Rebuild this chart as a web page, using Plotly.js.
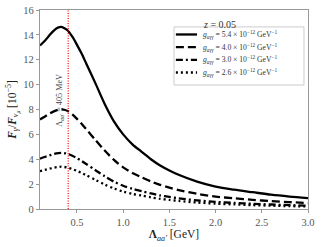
<!DOCTYPE html>
<html><head><meta charset="utf-8">
<script src="https://cdn.plot.ly/plotly-3.0.1.min.js"></script>
<style>body{margin:0;padding:0;background:#fff}#plot{width:321px;height:247px}</style>
</head><body><div id="plot"></div>
<script>
const lambdaGeV = [0.1,0.15,0.2,0.25,0.3,0.33,0.36,0.4,0.45,0.5,0.55,0.6,0.7,0.8,0.9,1.0,1.1,1.2,1.3,1.4,1.5,1.6,1.8,2.0,2.2,2.4,2.6,2.8,3.0];
const g54 = [13.15,13.5,13.95,14.35,14.6,14.65,14.55,14.35,13.85,13.2,12.5,11.7,10.1,8.45,7.05,6.0,5.2,4.6,4.0,3.5,3.1,2.75,2.2,1.8,1.55,1.35,1.15,1.0,0.88];
const g40 = [7.2,7.42,7.65,7.85,7.98,8.02,7.98,7.88,7.6,7.25,6.85,6.42,5.55,4.7,3.95,3.35,2.9,2.55,2.22,1.94,1.72,1.52,1.22,1.0,0.86,0.74,0.63,0.55,0.48];
const g30 = [4.05,4.18,4.3,4.42,4.5,4.52,4.5,4.43,4.28,4.08,3.86,3.62,3.12,2.64,2.2,1.87,1.62,1.44,1.25,1.09,0.97,0.86,0.69,0.57,0.49,0.42,0.36,0.31,0.27];
const g26 = [3.05,3.14,3.23,3.32,3.38,3.4,3.38,3.33,3.21,3.06,2.9,2.72,2.34,1.97,1.65,1.4,1.21,1.08,0.94,0.82,0.73,0.65,0.52,0.43,0.37,0.31,0.27,0.23,0.2];
const seriesLabels = ["5.4","4.0","3.0","2.6"];
const lambdaCut = 0.405;
const xTicks = [0.5,1.0,1.5,2.0,2.5,3.0];
const yTicks = [0,2,4,6,8,10,12,14,16];

const dashes = ["solid","8px,4px","7px,3px,2px,3px","2px,3px"];
const ys = [g54,g40,g30,g26];
const labelText = s => '<i>g</i><sub><i>aγγ</i></sub> = '+s+' × 10<sup>−12</sup> GeV<sup>−1</sup>';
const traces = ys.map((y,i)=>({
  x: lambdaGeV, y: y, type:'scatter', mode:'lines',
  line:{color:'black', width:2.3, dash:dashes[i], shape:'spline', smoothing:0.8},
  name: labelText(seriesLabels[i]), showlegend:false
}));
traces.push({x:[lambdaCut,lambdaCut], y:[0,16], type:'scatter', mode:'lines',
  line:{color:'red', width:1.2, dash:'1px,1.5px'}, showlegend:false});

const serif = 'Liberation Serif, DejaVu Serif, serif';

// hand-made legend (box, samples, labels) in paper coordinates
const legBox = {x0:0.5, x1:0.985, y0:0.623, y1:0.915};
const rowY = [0.877, 0.813, 0.749, 0.686];
const shapes = [{type:'rect', xref:'paper', yref:'paper', x0:legBox.x0, x1:legBox.x1, y0:legBox.y0, y1:legBox.y1,
  line:{color:'#cccccc', width:1}, fillcolor:'rgba(255,255,255,0.8)', layer:'above'}];
const annotations = [
  {x:0.735, xref:'paper', y:0.962, yref:'paper', text:'<i>z</i> = 0.05', showarrow:false, borderpad:0,
    font:{size:10, family:serif, color:'#333'}},
  {x:0.317, y:8.7, xref:'x', yref:'y', text:'Λ<sub><i>aa′</i></sub> = 405 MeV', textangle:-90, showarrow:false,
    font:{size:8.2, family:serif, color:'#444'}}
];
seriesLabels.forEach((s,i)=>{
  shapes.push({type:'line', xref:'paper', yref:'paper', x0:0.507, x1:0.586, y0:rowY[i], y1:rowY[i],
    line:{color:'black', width:2.3, dash:dashes[i]}, layer:'above'});
  annotations.push({x:0.605, xref:'paper', y:rowY[i], yref:'paper', xanchor:'left', yanchor:'middle', borderpad:0,
    text:labelText(s), showarrow:false, font:{size:7.6, family:serif, color:'#333'}});
});

const layout = {
  width:321, height:247,
  margin:{l:40, r:13, t:10, b:38},
  paper_bgcolor:'white', plot_bgcolor:'white',
  font:{family:serif, color:'#444', size:9},
  showlegend:false,
  xaxis:{range:[0.1,3.0], tickvals:xTicks, ticktext:xTicks.map(v=>v.toFixed(1)),
    showline:true, linecolor:'#999', linewidth:1.2, mirror:true, zeroline:false, showgrid:false,
    ticks:'outside', ticklen:3, tickcolor:'#999', tickfont:{size:10.5, family:serif, color:'#555'},
    title:{text:'<b>Λ</b><sub><i>aa′</i></sub> [GeV]', standoff:3, font:{size:11.5, family:serif, color:'#222'}}},
  yaxis:{range:[0,16], tickvals:yTicks,
    showline:true, linecolor:'#999', linewidth:1.2, mirror:true, zeroline:false, showgrid:false,
    ticks:'outside', ticklen:3, tickcolor:'#999', tickfont:{size:10.5, family:serif, color:'#555'},
    title:{text:'<b><i>F</i></b><sub><i>γ</i></sub>/<b><i>F</i></b><sub><i>ν<sub>μ</sub></i></sub> [10<sup>−5</sup>]', standoff:4, font:{size:11.5, family:serif, color:'#222'}}},
  shapes: shapes,
  annotations: annotations
};
Plotly.newPlot('plot', traces, layout, {staticPlot:true, displayModeBar:false});
</script></body></html>
